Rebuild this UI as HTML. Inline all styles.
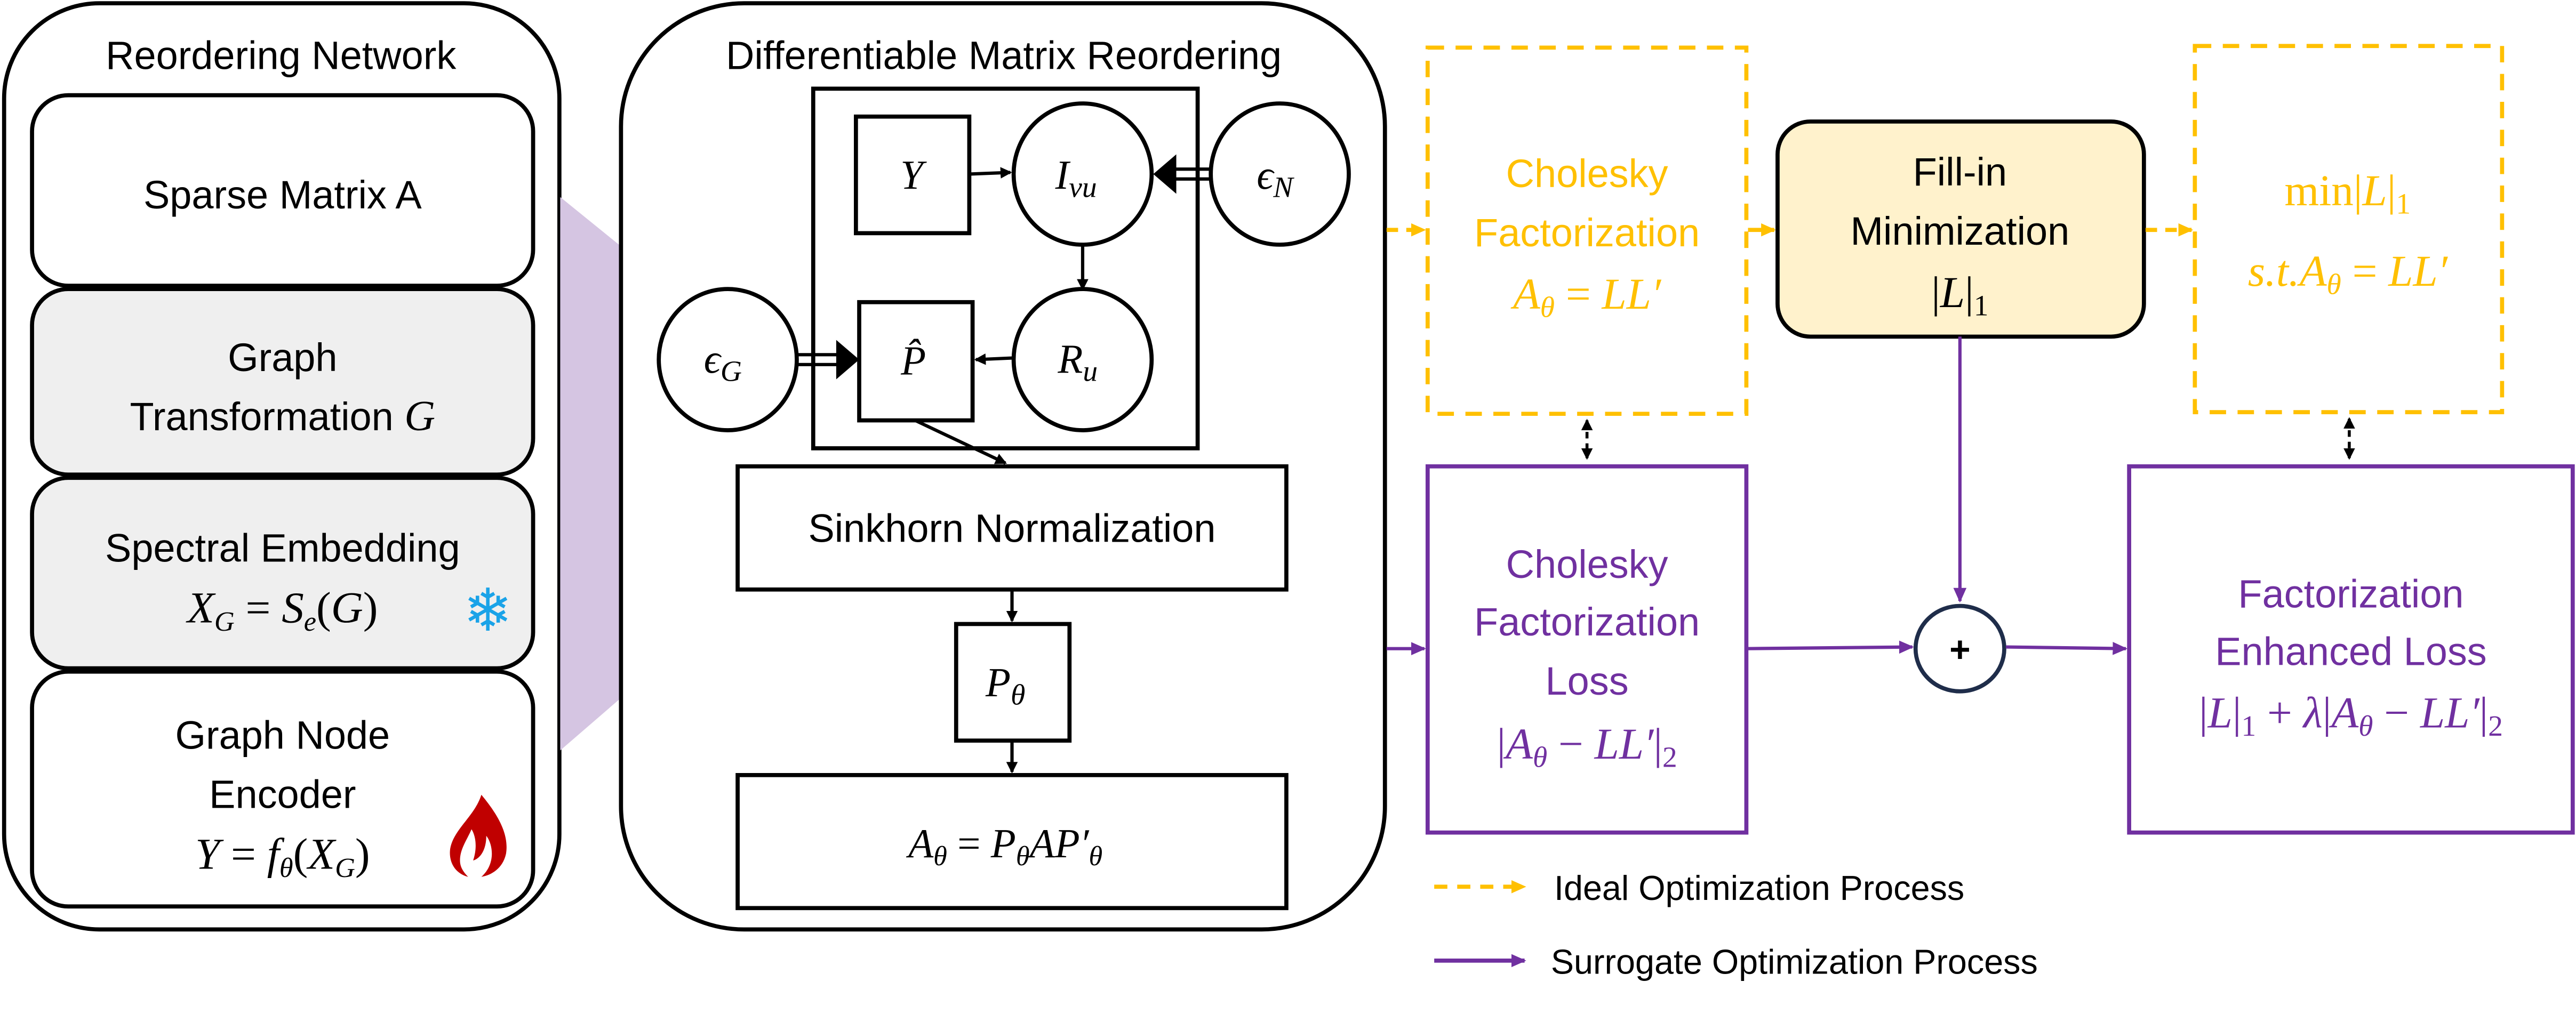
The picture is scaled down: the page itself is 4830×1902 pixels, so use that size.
<!DOCTYPE html>
<html><head><meta charset="utf-8"><style>
html,body{margin:0;padding:0;background:#fff;}
svg{display:block}
.s{font-family:"Liberation Sans",sans-serif;}
.m{font-family:"Liberation Serif",serif;font-style:italic;}
.r{font-family:"Liberation Serif",serif;}
</style></head><body>
<svg width="4830" height="1902" viewBox="0 0 1568 617.5" preserveAspectRatio="none" xmlns="http://www.w3.org/2000/svg">
<defs>
<marker id="ab" markerWidth="8" markerHeight="8" refX="6" refY="4" orient="auto" markerUnits="userSpaceOnUse"><path d="M0,0.5 L7,4 L0,7.5 Z" fill="#000"/></marker>
<marker id="ap" markerWidth="10" markerHeight="10" refX="8" refY="5" orient="auto" markerUnits="userSpaceOnUse"><path d="M0,1 L9,5 L0,9 Z" fill="#7030a0"/></marker>
<marker id="ay" markerWidth="10" markerHeight="10" refX="8" refY="5" orient="auto" markerUnits="userSpaceOnUse"><path d="M0,1 L9,5 L0,9 Z" fill="#ffc000"/></marker>
<marker id="ak" markerWidth="8" markerHeight="8" refX="6" refY="4" orient="auto-start-reverse" markerUnits="userSpaceOnUse"><path d="M0,0.5 L7,4 L0,7.5 Z" fill="#000"/></marker>
</defs>

<!-- Left panel -->
<rect x="2.5" y="2" width="338" height="564" rx="58" fill="#fff" stroke="#000" stroke-width="2.5"/>
<polygon points="341,120 378,150 378,425 341,457" fill="#d5c5e2"/>
<text x="171" y="42" class="s" font-size="24" text-anchor="middle">Reordering Network</text>
<rect x="19.5" y="58" width="305" height="116" rx="22" fill="#fff" stroke="#000" stroke-width="2.5"/>
<text x="172" y="127" class="s" font-size="24" text-anchor="middle">Sparse Matrix A</text>
<rect x="19.5" y="176" width="305" height="113" rx="22" fill="#efefef" stroke="#000" stroke-width="2.5"/>
<text x="172" y="226" class="s" font-size="24" text-anchor="middle">Graph</text>
<text x="172" y="262" class="s" font-size="24" text-anchor="middle">Transformation <tspan class="m" font-size="26">G</tspan></text>
<rect x="19.5" y="291" width="305" height="116" rx="22" fill="#efefef" stroke="#000" stroke-width="2.5"/>
<text x="172" y="342" class="s" font-size="24" text-anchor="middle">Spectral Embedding</text>
<text x="172" y="379" class="m" font-size="27" text-anchor="middle">X<tspan font-size="17" dy="5">G</tspan><tspan dy="-5" class="r" font-style="normal"> = </tspan>S<tspan font-size="17" dy="5">e</tspan><tspan dy="-5" class="r" font-style="normal">(</tspan>G<tspan class="r" font-style="normal">)</tspan></text>
<text x="297" y="384" font-family="DejaVu Sans,sans-serif" font-size="36" fill="#1aa3e8" text-anchor="middle">❄</text>
<rect x="19.5" y="409" width="305" height="143" rx="22" fill="#fff" stroke="#000" stroke-width="2.5"/>
<text x="172" y="456" class="s" font-size="24" text-anchor="middle">Graph Node</text>
<text x="172" y="492" class="s" font-size="24" text-anchor="middle">Encoder</text>
<text x="172" y="529" class="m" font-size="27" text-anchor="middle">Y<tspan class="r" font-style="normal"> = </tspan>f<tspan font-size="17" dy="5">θ</tspan><tspan dy="-5" class="r" font-style="normal">(</tspan>X<tspan font-size="17" dy="5">G</tspan><tspan dy="-5" class="r" font-style="normal">)</tspan></text>
<path d="M293,484 C303,496 310,508 308,520 C306,529 299,533 293,534 C302,526 300,514 296,509 C296,518 292,523 288,524 C291,515 289,508 287,505 C284,512 280,517 280,524 C280,528 282,531 285,534 C277,532 273,525 274,517 C276,505 289,497 293,484 Z" fill="#c00000"/>

<!-- Middle panel -->
<rect x="378" y="2" width="465" height="564" rx="75" fill="#fff" stroke="#000" stroke-width="2.5"/>
<text x="611" y="42" class="s" font-size="24" text-anchor="middle">Differentiable Matrix Reordering</text>
<rect x="495" y="54" width="234" height="219" fill="#fff" stroke="#000" stroke-width="2.5"/>
<rect x="521" y="71" width="69" height="71" fill="#fff" stroke="#000" stroke-width="2.5"/>
<text x="555" y="115" class="m" font-size="25" text-anchor="middle">Y</text>
<ellipse cx="659" cy="106" rx="42" ry="43" fill="#fff" stroke="#000" stroke-width="2.5"/>
<text x="655" y="115" class="m" font-size="25" text-anchor="middle">I<tspan font-size="18" dy="5">vu</tspan></text>
<ellipse cx="779" cy="106" rx="42" ry="43" fill="#fff" stroke="#000" stroke-width="2.5"/>
<text x="776" y="115" class="m" font-size="25" text-anchor="middle">ϵ<tspan font-size="18" dy="5">N</tspan></text>
<ellipse cx="659" cy="219" rx="42" ry="43" fill="#fff" stroke="#000" stroke-width="2.5"/>
<text x="656" y="227" class="m" font-size="25" text-anchor="middle">R<tspan font-size="18" dy="5">u</tspan></text>
<rect x="523" y="184" width="69" height="72" fill="#fff" stroke="#000" stroke-width="2.5"/>
<text x="556" y="228" class="m" font-size="25" text-anchor="middle">P̂</text>
<ellipse cx="443" cy="219" rx="42" ry="43" fill="#fff" stroke="#000" stroke-width="2.5"/>
<text x="440" y="227" class="m" font-size="25" text-anchor="middle">ϵ<tspan font-size="18" dy="5">G</tspan></text>
<line x1="590" y1="106" x2="615" y2="105" stroke="#000" stroke-width="2" marker-end="url(#ab)"/>
<line x1="659" y1="149" x2="659" y2="176" stroke="#000" stroke-width="2" marker-end="url(#ab)"/>
<line x1="617" y1="218" x2="594" y2="219" stroke="#000" stroke-width="2" marker-end="url(#ab)"/>
<line x1="737" y1="103" x2="715" y2="103" stroke="#000" stroke-width="2"/>
<line x1="737" y1="109" x2="715" y2="109" stroke="#000" stroke-width="2"/>
<polygon points="702,106 716,94 716,118" fill="#000"/>
<line x1="485" y1="216" x2="510" y2="216" stroke="#000" stroke-width="2"/>
<line x1="485" y1="222" x2="510" y2="222" stroke="#000" stroke-width="2"/>
<polygon points="523,219 509,207 509,231" fill="#000"/>
<line x1="557" y1="256" x2="612" y2="282" stroke="#000" stroke-width="2" marker-end="url(#ab)"/>
<rect x="449" y="284" width="334" height="75" fill="#fff" stroke="#000" stroke-width="2.5"/>
<text x="616" y="330" class="s" font-size="24" text-anchor="middle">Sinkhorn Normalization</text>
<line x1="616" y1="359" x2="616" y2="378" stroke="#000" stroke-width="2" marker-end="url(#ab)"/>
<rect x="582" y="380" width="69" height="71" fill="#fff" stroke="#000" stroke-width="2.5"/>
<text x="612" y="424" class="m" font-size="25" text-anchor="middle">P<tspan font-size="18" dy="5">θ</tspan></text>
<line x1="616" y1="451" x2="616" y2="470" stroke="#000" stroke-width="2" marker-end="url(#ab)"/>
<rect x="449" y="472" width="334" height="81" fill="#fff" stroke="#000" stroke-width="2.5"/>
<text x="612" y="522" class="m" font-size="25" text-anchor="middle">A<tspan font-size="17" dy="5">θ</tspan><tspan dy="-5" class="r" font-style="normal"> = </tspan>P<tspan font-size="17" dy="5">θ</tspan><tspan dy="-5">AP′</tspan><tspan font-size="17" dy="5">θ</tspan></text>

<!-- Right: yellow dashed -->
<line x1="844" y1="140" x2="867" y2="140" stroke="#ffc000" stroke-width="2.5" stroke-dasharray="7,5" marker-end="url(#ay)"/>
<rect x="869" y="29" width="194" height="223" fill="none" stroke="#ffc000" stroke-width="2.5" stroke-dasharray="10,7"/>
<text x="966" y="114" class="s" font-size="24" fill="#ffc000" text-anchor="middle">Cholesky</text>
<text x="966" y="150" class="s" font-size="24" fill="#ffc000" text-anchor="middle">Factorization</text>
<text x="966" y="188" class="m" font-size="27" fill="#ffc000" text-anchor="middle">A<tspan font-size="18" dy="5">θ</tspan><tspan dy="-5" class="r" font-style="normal"> = </tspan>LL′</text>
<line x1="1064" y1="140" x2="1080" y2="140" stroke="#ffc000" stroke-width="2.5" marker-end="url(#ay)"/>
<rect x="1082" y="74" width="223" height="131" rx="20" fill="#fff2cc" stroke="#000" stroke-width="2.5"/>
<text x="1193" y="113" class="s" font-size="24" text-anchor="middle">Fill-in</text>
<text x="1193" y="149" class="s" font-size="24" text-anchor="middle">Minimization</text>
<text x="1193" y="187" class="m" font-size="27" text-anchor="middle"><tspan class="r" font-style="normal">|</tspan>L<tspan class="r" font-style="normal">|</tspan><tspan class="r" font-style="normal" font-size="18" dy="5">1</tspan></text>
<line x1="1306" y1="140" x2="1334" y2="140" stroke="#ffc000" stroke-width="2.5" stroke-dasharray="7,5" marker-end="url(#ay)"/>
<rect x="1336" y="28" width="187" height="223" fill="none" stroke="#ffc000" stroke-width="2.5" stroke-dasharray="10,7"/>
<text x="1429" y="125" class="r" font-size="27" fill="#ffc000" text-anchor="middle">min|<tspan class="m">L</tspan>|<tspan font-size="18" dy="5">1</tspan></text>
<text x="1429" y="174" class="m" font-size="27" fill="#ffc000" text-anchor="middle">s.t.A<tspan font-size="18" dy="5">θ</tspan><tspan dy="-5" class="r" font-style="normal"> = </tspan>LL′</text>

<!-- black dashed double arrows -->
<line x1="966" y1="256" x2="966" y2="279" stroke="#000" stroke-width="1.8" stroke-dasharray="4,3" marker-start="url(#ak)" marker-end="url(#ak)"/>
<line x1="1430" y1="255" x2="1430" y2="279" stroke="#000" stroke-width="1.8" stroke-dasharray="4,3" marker-start="url(#ak)" marker-end="url(#ak)"/>

<!-- purple -->
<line x1="844" y1="395" x2="867" y2="395" stroke="#7030a0" stroke-width="2" marker-end="url(#ap)"/>
<rect x="869" y="284" width="194" height="223" fill="none" stroke="#7030a0" stroke-width="2.5"/>
<text x="966" y="352" class="s" font-size="24" fill="#7030a0" text-anchor="middle">Cholesky</text>
<text x="966" y="387" class="s" font-size="24" fill="#7030a0" text-anchor="middle">Factorization</text>
<text x="966" y="423" class="s" font-size="24" fill="#7030a0" text-anchor="middle">Loss</text>
<text x="966" y="462" class="m" font-size="27" fill="#7030a0" text-anchor="middle"><tspan class="r" font-style="normal">|</tspan>A<tspan font-size="18" dy="5">θ</tspan><tspan dy="-5" class="r" font-style="normal"> − </tspan>LL′<tspan class="r" font-style="normal">|</tspan><tspan class="r" font-style="normal" font-size="18" dy="5">2</tspan></text>
<line x1="1063" y1="395" x2="1164" y2="394" stroke="#7030a0" stroke-width="2" marker-end="url(#ap)"/>
<line x1="1193" y1="205" x2="1193" y2="366" stroke="#7030a0" stroke-width="2" marker-end="url(#ap)"/>
<ellipse cx="1193" cy="395" rx="27" ry="26" fill="#fff" stroke="#1f2d4a" stroke-width="2.5"/>
<text x="1193" y="403" class="s" font-size="22" font-weight="bold" text-anchor="middle">+</text>
<line x1="1221" y1="394" x2="1294" y2="395" stroke="#7030a0" stroke-width="2" marker-end="url(#ap)"/>
<rect x="1296" y="284" width="270" height="223" fill="none" stroke="#7030a0" stroke-width="2.5"/>
<text x="1431" y="370" class="s" font-size="24" fill="#7030a0" text-anchor="middle">Factorization</text>
<text x="1431" y="405" class="s" font-size="24" fill="#7030a0" text-anchor="middle">Enhanced Loss</text>
<text x="1431" y="443" class="m" font-size="27" fill="#7030a0" text-anchor="middle"><tspan class="r" font-style="normal">|</tspan>L<tspan class="r" font-style="normal">|</tspan><tspan class="r" font-style="normal" font-size="18" dy="5">1</tspan><tspan dy="-5" class="r" font-style="normal"> + </tspan>λ<tspan class="r" font-style="normal">|</tspan>A<tspan font-size="18" dy="5">θ</tspan><tspan dy="-5" class="r" font-style="normal"> − </tspan>LL′<tspan class="r" font-style="normal">|</tspan><tspan class="r" font-style="normal" font-size="18" dy="5">2</tspan></text>

<!-- legend -->
<line x1="873" y1="540" x2="928" y2="540" stroke="#ffc000" stroke-width="2.5" stroke-dasharray="8,6" marker-end="url(#ay)"/>
<text x="946" y="548" class="s" font-size="21">Ideal Optimization Process</text>
<line x1="873" y1="585" x2="928" y2="585" stroke="#7030a0" stroke-width="2.5" marker-end="url(#ap)"/>
<text x="944" y="593" class="s" font-size="21">Surrogate Optimization Process</text>
</svg>
</body></html>
